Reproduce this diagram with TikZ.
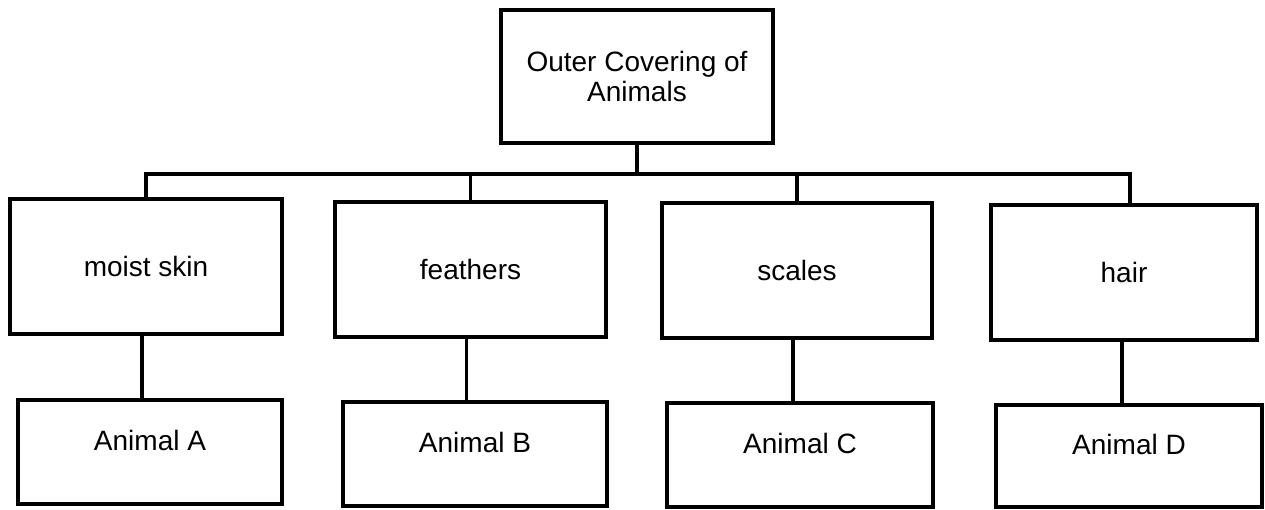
\documentclass[tikz,border=0pt]{standalone}
\usepackage{fontspec}
\setmainfont{Liberation Sans}
\begin{document}
\begin{tikzpicture}[x=1pt,y=-1pt,
  box/.style={draw,line width=3.8pt,inner sep=0pt,font=\fontsize{28}{30}\selectfont,align=center},
  lowbox/.style={box,text height=20pt,text depth=24pt},
  link/.style={line width=3.5pt}]
\useasboundingbox (0,0) rectangle (1265,509);
\node[box,minimum width=272pt,minimum height=133pt] (top) at (637,76.5) {Outer Covering of\\Animals};
\node[box,minimum width=272pt,minimum height=135pt] (m) at (146,266.5) {moist skin};
\node[box,minimum width=271pt,minimum height=135pt] (f) at (470.5,269.5) {feathers};
\node[box,minimum width=270pt,minimum height=135pt] (s) at (797,270.5) {scales};
\node[box,minimum width=266pt,minimum height=135pt] (h) at (1124,272.5) {hair};
\node[lowbox,minimum width=264pt,minimum height=104pt] (a) at (150,452) {Animal A};
\node[lowbox,minimum width=264pt,minimum height=104pt] (b) at (475,454) {Animal B};
\node[lowbox,minimum width=266pt,minimum height=104pt] (c) at (800,455) {Animal C};
\node[lowbox,minimum width=266pt,minimum height=102pt] (d) at (1129,456) {Animal D};
\coordinate (bar) at (0,174);
\draw[link] (top.south) -- (top.south |- bar);
\draw[link,line join=miter] (m.north) -- (m.north |- bar) -- ([xshift=6pt]h.north |- bar) -- ([xshift=6pt]h.north);
\draw[link] (f.north) -- (f.north |- bar);
\draw[link] (s.north) -- (s.north |- bar);
\draw[link] ([xshift=-4pt]m.south) -- ([xshift=-4pt]m.south |- a.north);
\draw[link] ([xshift=-4pt]f.south) -- ([xshift=-4pt]f.south |- b.north);
\draw[link] ([xshift=-4pt]s.south) -- ([xshift=-4pt]s.south |- c.north);
\draw[link] ([xshift=-2pt]h.south) -- ([xshift=-2pt]h.south |- d.north);
\end{tikzpicture}
\end{document}
